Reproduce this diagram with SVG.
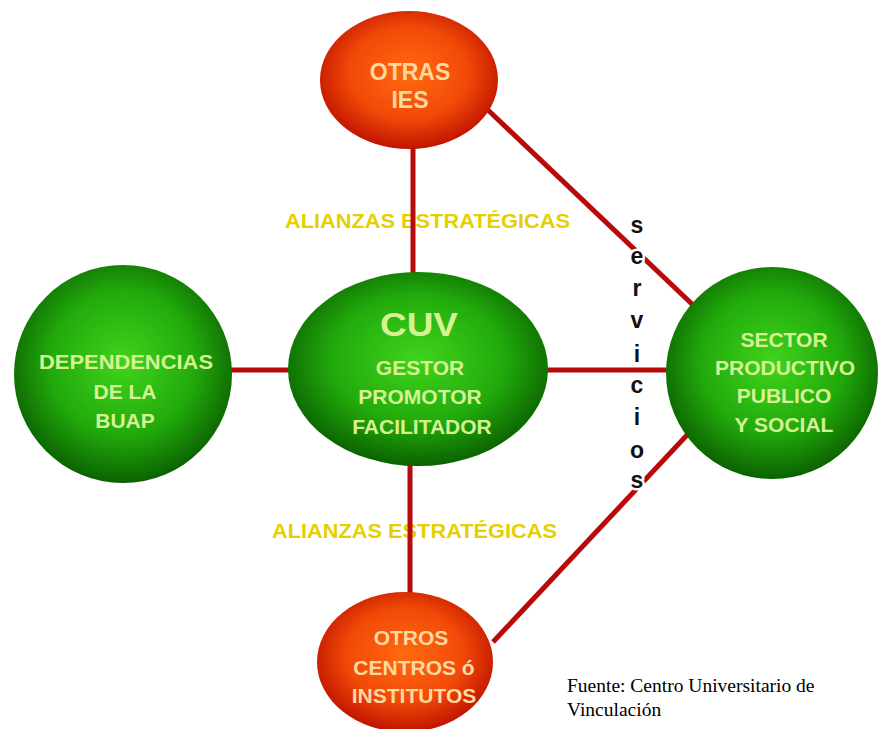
<svg xmlns="http://www.w3.org/2000/svg" width="878" height="729" viewBox="0 0 878 729">
<defs>
<radialGradient id="gG" cx="50%" cy="45%" r="55%">
<stop offset="0" stop-color="#40d41c"/>
<stop offset="0.6" stop-color="#22aa0c"/>
<stop offset="1" stop-color="#0b6200"/>
</radialGradient>
<radialGradient id="gR" cx="50%" cy="45%" r="55%">
<stop offset="0" stop-color="#ff6a10"/>
<stop offset="0.6" stop-color="#f24a08"/>
<stop offset="1" stop-color="#c01400"/>
</radialGradient>
<style>
.ln{stroke:#b80a0a;stroke-width:5;fill:none}
.nt{font-family:"Liberation Sans",Arial,sans-serif;font-weight:bold;font-size:21px;text-anchor:middle;fill:#d6f394}
.rt{font-family:"Liberation Sans",Arial,sans-serif;font-weight:bold;font-size:21px;text-anchor:middle;fill:#ffd9a0}
.al{font-family:"Liberation Sans",Arial,sans-serif;font-weight:bold;font-size:21px;fill:#e6cf00}
.sv{font-family:"Liberation Sans",Arial,sans-serif;font-weight:bold;font-size:23px;text-anchor:middle;fill:#111;stroke:#fff;stroke-width:5;paint-order:stroke;stroke-linejoin:round}
.src{font-family:"Liberation Serif","Times New Roman",serif;font-size:19.5px;fill:#000}
</style>
</defs>
<rect width="878" height="729" fill="#fff"/>
<g id="labels-alianzas">
<text class="al" x="285" y="228" textLength="285" lengthAdjust="spacingAndGlyphs">ALIANZAS ESTRATÉGICAS</text>
<text class="al" x="272" y="538" textLength="285" lengthAdjust="spacingAndGlyphs">ALIANZAS ESTRATÉGICAS</text>
</g>
<g id="connectors">
<line class="ln" x1="413" y1="145" x2="413" y2="276"/>
<line class="ln" x1="410" y1="462" x2="410" y2="598"/>
<line class="ln" x1="230" y1="370" x2="292" y2="370"/>
<line class="ln" x1="546" y1="370" x2="668" y2="370"/>
<line class="ln" x1="488" y1="110" x2="693" y2="305"/>
<line class="ln" x1="493" y1="642" x2="688" y2="434"/>
</g>
<g id="node-otras-ies">
<ellipse cx="409" cy="80" rx="89" ry="69" fill="url(#gR)"/>
<text class="rt" x="410" y="80" style="font-size:23px">OTRAS</text>
<text class="rt" x="410" y="108" style="font-size:23px">IES</text>
</g>
<g id="node-dependencias">
<circle cx="123" cy="374" r="109" fill="url(#gG)"/>
<text class="nt" x="126" y="369" textLength="174" lengthAdjust="spacingAndGlyphs">DEPENDENCIAS</text>
<text class="nt" x="125" y="399">DE LA</text>
<text class="nt" x="125" y="428">BUAP</text>
</g>
<g id="node-cuv">
<ellipse cx="418" cy="369" rx="130" ry="97" fill="url(#gG)"/>
<text class="nt" x="419" y="336" style="font-size:34px" textLength="78" lengthAdjust="spacingAndGlyphs">CUV</text>
<text class="nt" x="420" y="375">GESTOR</text>
<text class="nt" x="420" y="404">PROMOTOR</text>
<text class="nt" x="422" y="434">FACILITADOR</text>
</g>
<g id="node-sector">
<circle cx="772" cy="373" r="106" fill="url(#gG)"/>
<text class="nt" x="784" y="347">SECTOR</text>
<text class="nt" x="785" y="375">PRODUCTIVO</text>
<text class="nt" x="784" y="403">PUBLICO</text>
<text class="nt" x="784" y="432">Y SOCIAL</text>
</g>
<g id="node-otros-centros">
<ellipse cx="405" cy="662" rx="88" ry="70" fill="url(#gR)"/>
<text class="rt" x="411" y="645">OTROS</text>
<text class="rt" x="414" y="675">CENTROS ó</text>
<text class="rt" x="414" y="703">INSTITUTOS</text>
</g>
<g id="label-servicios">
<text class="sv" x="637" y="233">s</text>
<text class="sv" x="637" y="264">e</text>
<text class="sv" x="637" y="296">r</text>
<text class="sv" x="637" y="328">v</text>
<text class="sv" x="637" y="362">i</text>
<text class="sv" x="637" y="393">c</text>
<text class="sv" x="637" y="425">i</text>
<text class="sv" x="637" y="458">o</text>
<text class="sv" x="637" y="488">s</text>
</g>
<g id="source">
<text class="src" x="567" y="692">Fuente: Centro Universitario de</text>
<text class="src" x="567" y="716">Vinculación</text>
</g>
</svg>
